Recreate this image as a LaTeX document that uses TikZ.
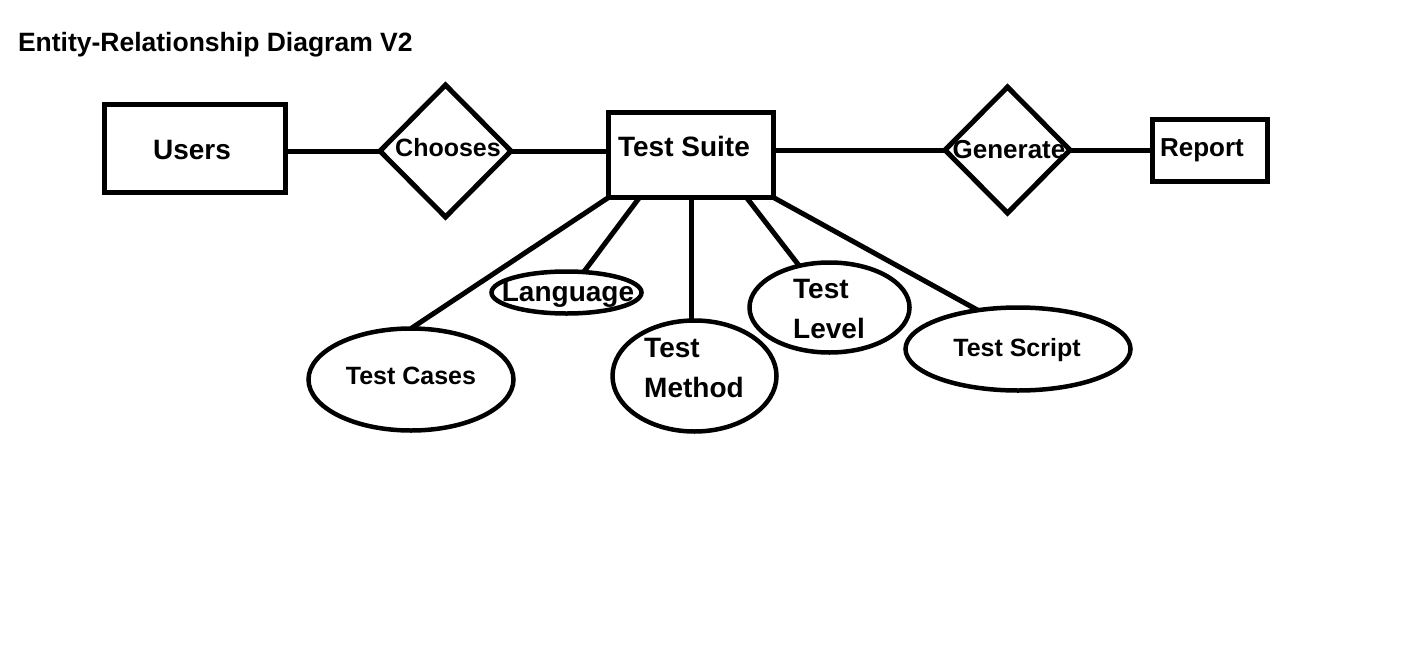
\documentclass[tikz,border=0pt]{standalone}
\usepackage{fontspec}
\setmainfont{Liberation Sans}
\usetikzlibrary{shapes.geometric,calc}
\begin{document}
\begin{tikzpicture}[x=1pt,y=-1pt,
  every node/.style={inner sep=0pt,outer sep=0pt},
  ent/.style={draw,line width=5pt,rectangle},
  rel/.style={draw,line width=5pt,diamond,aspect=1},
  att/.style={draw,line width=4.5pt,ellipse},
  conn/.style={line width=5pt},
  lbl/.style={font=\bfseries\fontsize{#1}{#1}\selectfont},
  mlbl/.style={align=left,font=\bfseries\fontsize{#1}{40}\selectfont}]
\useasboundingbox (0,0) rectangle (1415,664);
\node[lbl=26.5,anchor=base west] (title) at (18,51) {Entity-Relationship Diagram V2};
% entities and relationships
\node[ent,minimum width=181pt,minimum height=88pt] (users) at (195,148.5) {};
\node[rel,minimum width=131pt,minimum height=132pt] (ch) at (445.5,151) {};
\node[ent,minimum width=165pt,minimum height=85pt] (ts) at (691,155) {};
\node[rel,minimum width=125pt,minimum height=126pt] (gen) at (1007.5,150) {};
\node[ent,minimum width=115pt,minimum height=62pt] (rep) at (1210,150.5) {};
% attributes
\node[att,minimum width=205pt,minimum height=102pt] (tc) at (411,379.5) {};
\node[att,minimum width=150pt,minimum height=42pt] (lang) at (566.5,292.5) {};
\node[att,minimum width=164pt,minimum height=111pt] (tm) at (694.5,376) {};
\node[att,minimum width=160pt,minimum height=90pt] (tl) at (829.5,307.5) {};
\node[att,minimum width=225pt,minimum height=83pt] (tsc) at (1018,349) {};
% texts
\node[lbl=28] (tUsers) at (192,150) {Users};
\node[lbl=25] (tCh) at (448,148) {Chooses};
\node[lbl=28] (tTs) at (684,146) {Test Suite};
\node[lbl=26] (tGen) at (1009,150) {Generate};
\node[lbl=26] (tRep) at (1202,150) {Report};
\node[lbl=25] (tTc) at (411,376) {Test Cases};
\node[lbl=28] (tLang) at (568,295) {Language};
\node[mlbl=28] (tTm) at (694,368) {Test\\Method};
\node[mlbl=28] (tTl) at (829,309) {Test\\Level};
\node[lbl=25] (tTsc) at (1017,350) {Test Script};
% connectors
\draw[conn] (users.east |- ch.west) -- (ch.west);
\draw[conn] (ch.east) -- (ch.east -| ts.west);
\draw[conn] (ts.east |- gen.west) -- (gen.west);
\draw[conn] (gen.east) -- (gen.east -| rep.west);
\draw[conn] (ts.south west) -- (tc.north);
\draw[conn] ([xshift=31pt]ts.south west) -- (lang.50);
\coordinate (tmtop) at ([xshift=83pt]ts.south west);
\draw[conn] (tmtop) -- (tmtop |- tm.north);
\draw[conn] ([xshift=138pt]ts.south west) -- (tl.126);
\draw[conn] (ts.south east) -- (tsc.136);
\end{tikzpicture}
\end{document}
